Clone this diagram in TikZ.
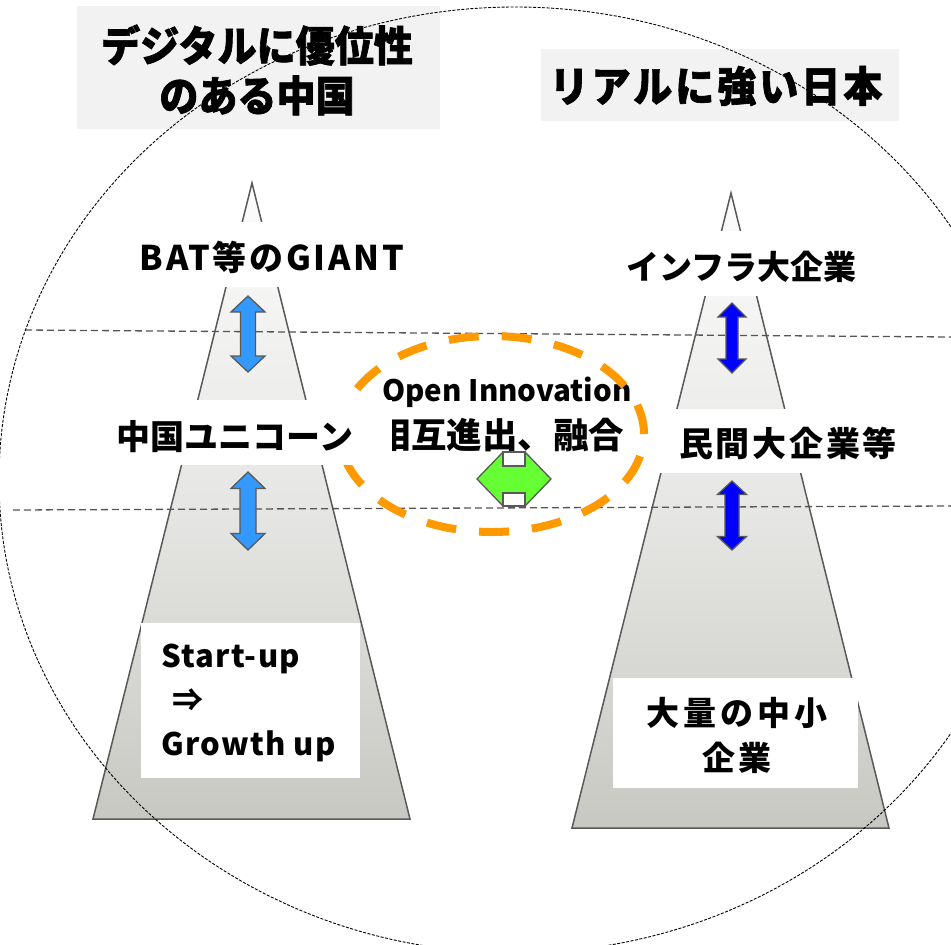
\documentclass[tikz,border=0pt]{standalone}
\usepackage{fontspec}
\setmainfont{Noto Sans CJK JP}
\newfontfamily\jp{Noto Sans CJK JP}
\newfontfamily\jpt{Noto Sans CJK JP}[FakeStretch=0.93, BoldFeatures={FakeBold=1.5}]
\definecolor{edgegray}{HTML}{595959}
\definecolor{linegray}{HTML}{555555}
\definecolor{gradtop}{HTML}{FCFCFC}
\definecolor{gradmid}{HTML}{E6E6E4}
\definecolor{gradbot}{HTML}{C8C8C3}
\definecolor{titlegray}{HTML}{F2F2F2}
\definecolor{bluea}{HTML}{3399FF}
\definecolor{blueb}{HTML}{0000FF}
\definecolor{greena}{HTML}{66FF33}
\definecolor{orangea}{HTML}{FF9900}
\newcommand\myvarrow[7]{%
  \filldraw[varr, fill=#7] (#1,#2) -- ({#1+#4},{#2+#6}) -- ({#1+#5},{#2+#6}) -- ({#1+#5},{#3-#6}) -- ({#1+#4},{#3-#6}) -- (#1,#3) -- ({#1-#4},{#3-#6}) -- ({#1-#5},{#3-#6}) -- ({#1-#5},{#2+#6}) -- ({#1-#4},{#2+#6}) -- cycle;}
\begin{document}
\begin{tikzpicture}[x=1pt,y=-1pt,
  tri/.style={draw=edgegray, line width=1.5pt, top color=gradtop, bottom color=gradbot, middle color=gradmid},
  hline/.style={draw=linegray, line width=1.3pt, dash pattern=on 7pt off 4pt},
  bigcirc/.style={draw=black, line width=0.9pt, dash pattern=on 3pt off 1.5pt},
  orangering/.style={draw=orangea, line width=8pt, dash pattern=on 30pt off 23pt},
  band/.style={fill=white, inner sep=0pt},
  lbl/.style={inner sep=0pt, align=center, font=\jp\bfseries\fontsize{34}{40}\selectfont},
  titlebox/.style={fill=titlegray, inner sep=0pt},
  titletext/.style={inner sep=0pt, align=center, font=\jpt\bfseries\fontsize{42}{50}\selectfont},
  varr/.style={draw=edgegray, line width=1.3pt},
  garr/.style={draw=edgegray, line width=1.3pt, fill=greena},
  notch/.style={draw=edgegray, line width=1.3pt, fill=white}]
\useasboundingbox (0,0) rectangle (951,945);
\clip (0,0) rectangle (951,945);
\fill[white] (0,0) rectangle (951,945);
% pyramids
\path[tri] (252,183) -- (410,819) -- (93,819) -- cycle;
\path[tri] (731,193) -- (889,828) -- (572,828) -- cycle;
% level lines
\draw[hline] (25,330) -- (951,337);
\draw[hline] (13,510) -- (951,506);
% open innovation text
\node[inner sep=0pt, font=\jp\bfseries\fontsize{29.5}{34}\selectfont] (oi) at (507,392) {Open Innovation};
\node[lbl, font=\jp\bfseries\fontsize{35.5}{40}\selectfont] (sogo) at (500,435) {相互進出、融合};
% orange ring
\draw[orangering] (492,434) ellipse [x radius=152pt, y radius=98pt];
% label bands
\node[band, minimum width=285pt, minimum height=65pt] (batbg) at (272.5,254.5) {};
\node[lbl, font=\jp\bfseries\addfontfeature{LetterSpace=8}\fontsize{34}{40}\selectfont] (bat) at (272,257) {BAT等のGIANT};
\node[band, minimum width=312pt, minimum height=65pt] (unicornbg) at (236,432.5) {};
\node[lbl] (unicorn) at (235,437) {中国ユニコーン};
\node[band, minimum width=219pt, minimum height=155pt] (startupbg) at (250.5,700.5) {};
\node[inner sep=0pt, anchor=west, align=left, font=\jp\bfseries\addfontfeature{LetterSpace=4}\fontsize{31}{44}\selectfont] (startup) at (161,703) {Start-up\\\hspace*{11pt}⇒\\Growth up};
\node[band, minimum width=260pt, minimum height=65pt] (infrabg) at (740,263.5) {};
\node[lbl, font=\jp\bfseries\fontsize{33}{40}\selectfont] (infra) at (741,267) {インフラ大企業};
\node[band, minimum width=270pt, minimum height=64pt] (minkanbg) at (788,441) {};
\node[lbl, font=\jp\bfseries\addfontfeature{LetterSpace=8}\fontsize{34}{40}\selectfont] (minkan) at (788,443) {民間大企業等};
\node[band, minimum width=245pt, minimum height=110pt] (chushobg) at (735.5,733) {};
\node[lbl, font=\jp\bfseries\addfontfeature{LetterSpace=12}\fontsize{33}{45}\selectfont] (chusho) at (737,735) {大量の中小\\企業};
% green arrow
\filldraw[garr] (477,479) -- (503,452) -- (525,452) -- (551,479) -- (525,506) -- (503,506) -- cycle;
\draw[notch] (503,452) rectangle (525,466);
\draw[notch] (503,493) rectangle (525,506);
% blue arrows
\myvarrow{248}{296}{372}{17}{7.5}{16}{bluea}
\myvarrow{248}{472}{550}{17}{8}{16.5}{bluea}
\myvarrow{732}{303}{373}{14}{6}{14}{blueb}
\myvarrow{732}{481}{550}{14.5}{7}{13.5}{blueb}
% titles
\node[titlebox, minimum width=363pt, minimum height=123pt] (ltitlebg) at (258.5,67.5) {};
\node[titletext] (ltitle) at (257,70) {デジタルに優位性\\のある中国};
\node[titlebox, minimum width=358pt, minimum height=72pt] (rtitlebg) at (720,85) {};
\node[titletext, font=\jpt\bfseries\addfontfeature{LetterSpace=7}\fontsize{42}{50}\selectfont] (rtitle) at (716,86) {リアルに強い日本};
% big dashed circle
\draw[bigcirc] (515,480) ellipse [x radius=516pt, y radius=473pt];
\end{tikzpicture}
\end{document}
